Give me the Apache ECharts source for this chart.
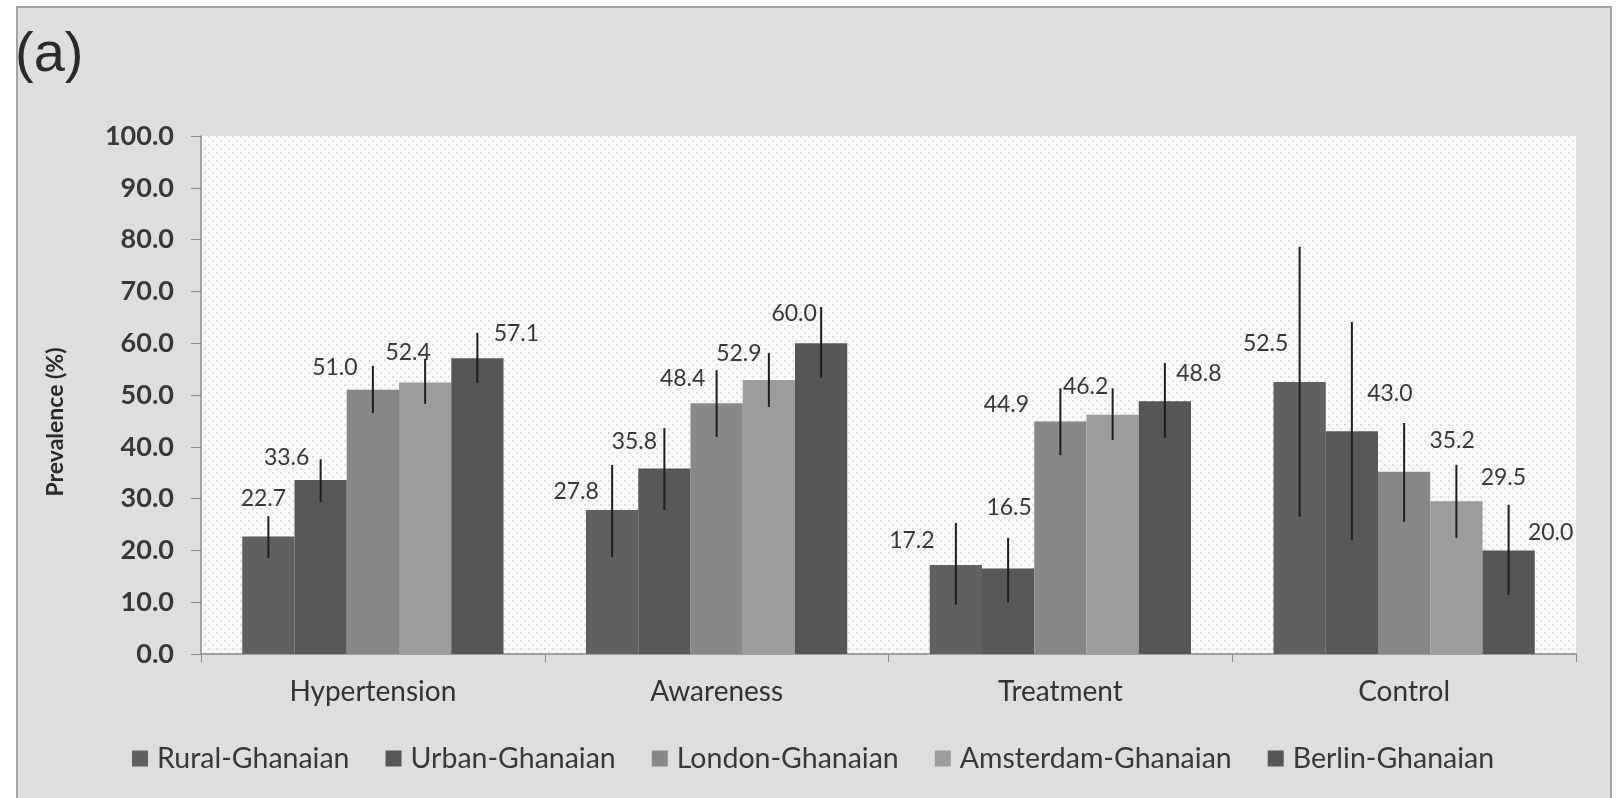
<!DOCTYPE html>
<html>
<head>
<meta charset="utf-8">
<script src="https://cdn.jsdelivr.net/npm/echarts@6/dist/echarts.min.js"></script>
<style>
  html, body { margin: 0; padding: 0; background: #ffffff; }
  #chart { width: 1624px; height: 798px; }
</style>
</head>
<body>
<div id="chart"></div>
<script>
// Hypertension prevalence, awareness, treatment and control among Ghanaians
const categories = ['Hypertension', 'Awareness', 'Treatment', 'Control'];
const groupNames = ['Rural-Ghanaian', 'Urban-Ghanaian', 'London-Ghanaian', 'Amsterdam-Ghanaian', 'Berlin-Ghanaian'];
const yTicks = [0, 10, 20, 30, 40, 50, 60, 70, 80, 90, 100];

const rural     = [22.7, 27.8, 17.2, 52.5];
const urban     = [33.6, 35.8, 16.5, 43.0];
const london    = [51.0, 48.4, 44.9, 35.2];
const amsterdam = [52.4, 52.9, 46.2, 29.5];
const berlin    = [57.1, 60.0, 48.8, 20.0];

// 95% confidence interval bounds
const ruralLow      = [18.5, 18.7, 9.5, 26.5];
const ruralHigh     = [26.6, 36.5, 25.3, 78.6];
const urbanLow      = [29.3, 27.8, 10.0, 22.0];
const urbanHigh     = [37.6, 43.6, 22.4, 64.1];
const londonLow     = [46.5, 41.9, 38.4, 25.5];
const londonHigh    = [55.6, 54.8, 51.3, 44.6];
const amsterdamLow  = [48.3, 47.7, 41.3, 22.4];
const amsterdamHigh = [57.0, 58.1, 51.3, 36.5];
const berlinLow     = [52.3, 53.3, 41.7, 11.4];
const berlinHigh    = [62.0, 67.0, 56.2, 28.8];

const seriesValues = [rural, urban, london, amsterdam, berlin];
const seriesLow = [ruralLow, urbanLow, londonLow, amsterdamLow, berlinLow];
const seriesHigh = [ruralHigh, urbanHigh, londonHigh, amsterdamHigh, berlinHigh];

// hand-placed value labels: [dx, dy] from the top centre of each bar
const labelNudge = [
  [[-5, -38], [-36, -18], [-44, -24], [-34, -38]],
  [[-34, -22], [-30, -27], [1, -61], [38, -38]],
  [[-38, -22], [-34, -25], [-54, -17], [48, -31]],
  [[-17, -30], [-30, -26], [-27, -28], [47, -24]],
  [[39, -25], [-27, -30], [34, -28], [42, -18]]
];

const barColors = ['#606060', '#585858', '#888888', '#9c9c9c', '#565656'];
const CAT_GAP = 0.24;
const FONT = 'Lato, "Open Sans", sans-serif';

// dotted plot-area fill
const dots = document.createElement('canvas');
dots.width = 8; dots.height = 8;
(function () {
  const c = dots.getContext('2d');
  c.fillStyle = '#f9f9f9';
  c.fillRect(0, 0, 8, 8);
  c.fillStyle = '#dedede';
  c.fillRect(0, 0, 2, 2);
  c.fillRect(4, 4, 2, 2);
})();

const chart = echarts.init(document.getElementById('chart'), null, { renderer: 'canvas' });

const barSeries = groupNames.map((name, s) => ({
  name: name,
  type: 'bar',
  barGap: '0%',
  barCategoryGap: (CAT_GAP * 100) + '%',
  itemStyle: { color: barColors[s] },
  label: {
    show: true,
    position: 'top',
    distance: 0,
    align: 'center',
    verticalAlign: 'middle',
    fontFamily: FONT,
    fontSize: 23,
    color: '#383838',
    formatter: p => p.value.toFixed(1)
  },
  data: seriesValues[s].map((v, i) => ({
    value: v,
    label: { offset: labelNudge[s][i] }
  })),
  z: 2
}));

const errData = [];
seriesValues.forEach((vals, s) => {
  vals.forEach((v, i) => {
    errData.push([i, seriesLow[s][i], seriesHigh[s][i], s]);
  });
});

const errorSeries = {
  type: 'custom',
  name: 'ci',
  silent: true,
  z: 3,
  encode: { x: 0, y: [1, 2] },
  renderItem: function (params, api) {
    const cat = api.value(0);
    const s = api.value(3);
    const band = api.size([1, 0])[0];
    const barW = band * (1 - CAT_GAP) / groupNames.length;
    const x = api.coord([cat, 0])[0] + (s - (groupNames.length - 1) / 2) * barW;
    const yLo = api.coord([cat, api.value(1)])[1];
    const yHi = api.coord([cat, api.value(2)])[1];
    return {
      type: 'line',
      shape: { x1: x, y1: yLo, x2: x, y2: yHi },
      style: { stroke: '#1e1e1e', lineWidth: 2 }
    };
  },
  data: errData
};

chart.setOption({
  animation: false,
  backgroundColor: '#ffffff',
  graphic: [
    {
      type: 'rect',
      z: -10,
      shape: { x: 17, y: 7, width: 1594, height: 800 },
      style: { fill: '#dedede', stroke: '#a4a4a4', lineWidth: 2 }
    },
    {
      type: 'text',
      x: 15, y: 28,
      style: { text: '(a)', font: '56px "Liberation Sans", Arial, sans-serif', fill: '#2a2a2a' }
    },
    {
      type: 'text',
      x: 56, y: 422,
      rotation: Math.PI / 2,
      style: {
        text: 'Prevalence (%)',
        font: 'bold 23px ' + FONT,
        fill: '#2a2a2a',
        align: 'center',
        verticalAlign: 'middle'
      }
    }
  ],
  grid: {
    left: 201, right: 48, top: 136, bottom: 144,
    show: true,
    backgroundColor: { image: dots, repeat: 'repeat' },
    borderWidth: 0
  },
  legend: {
    data: groupNames,
    left: 132,
    top: 744,
    itemWidth: 16,
    itemHeight: 16,
    itemGap: 36,
    icon: 'rect',
    padding: 0,
    textStyle: { fontFamily: FONT, fontSize: 28.5, color: '#383838', padding: [0, 0, 0, 4] }
  },
  xAxis: {
    type: 'category',
    data: categories,
    axisLine: { lineStyle: { color: '#8c8c8c', width: 1.5 } },
    axisTick: { show: true, length: 8, lineStyle: { color: '#8c8c8c' } },
    axisLabel: { margin: 24, fontFamily: FONT, fontSize: 28, color: '#333333' }
  },
  yAxis: {
    type: 'value',
    min: yTicks[0],
    max: yTicks[yTicks.length - 1],
    interval: yTicks[1] - yTicks[0],
    axisLine: { show: true, lineStyle: { color: '#8c8c8c', width: 1.5 } },
    axisTick: { show: true, length: 10, lineStyle: { color: '#8c8c8c' } },
    splitLine: { show: false },
    axisLabel: {
      margin: 27,
      fontFamily: FONT,
      fontWeight: 'bold',
      fontSize: 27,
      color: '#383838',
      formatter: v => v.toFixed(1)
    }
  },
  series: barSeries.concat([errorSeries])
});
</script>
</body>
</html>
